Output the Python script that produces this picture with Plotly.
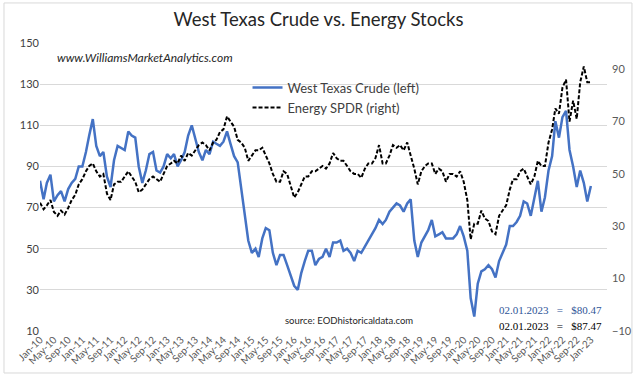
import pandas as pd
import plotly.graph_objects as go

# Monthly dates Jan-2010 .. Jan-2023
dates = pd.date_range("2010-01-01", "2023-01-01", freq="MS")

# West Texas Crude (left axis), $
wti = [
    83, 74, 82, 86, 73, 76, 78, 73, 79, 82, 84, 90,          # 2010
    90, 97, 105, 113, 100, 95, 97, 85, 80, 93, 100, 99,      # 2011
    98, 107, 105, 104, 90, 82, 88, 96, 97, 88, 87, 90,       # 2012
    96, 94, 96, 90, 93, 97, 105, 110, 104, 97, 93, 98,       # 2013
    96, 102, 101, 100, 102, 107, 101, 95, 92, 80, 67, 54,    # 2014
    48, 50, 46, 55, 60, 59, 48, 42, 47, 47, 42, 37,          # 2015
    32, 30, 38, 44, 49, 49, 42, 45, 46, 50, 46, 53,          # 2016
    53, 54, 49, 50, 48, 44, 49, 48, 51, 54, 57, 60,          # 2017
    64, 62, 64, 68, 70, 72, 71, 68, 72, 74, 54, 46,          # 2018
    53, 56, 59, 64, 56, 57, 58, 55, 55, 55, 57, 61,          # 2019
    56, 49, 26, 17, 33, 39, 40, 42, 40, 36, 44, 48,          # 2020
    52, 61, 61, 63, 66, 73, 72, 66, 74, 83, 68, 75,          # 2021
    88, 95, 112, 104, 114, 117, 98, 90, 80, 88, 82, 73,      # 2022
    80.47,                                                   # 2023
]

# Energy SPDR (right axis)
xle = [
    39, 36.5, 38, 40, 35.5, 34, 36, 34.5, 37, 40, 42, 46,    # 2010
    48, 51, 53, 54, 51, 49, 50, 42.5, 40, 46, 47, 47,        # 2011
    49, 51, 49, 47, 43, 44, 46, 48, 49, 48, 47, 50,          # 2012
    53, 54, 55, 54, 57, 55, 58, 57, 59, 61, 62, 61,          # 2013
    59, 62, 63, 66, 67, 72, 70, 68, 63, 62, 60, 55,          # 2014
    57, 59, 59, 60, 57, 54, 50, 47, 47, 51, 50, 46,          # 2015
    41, 43, 46, 49, 49, 51, 51, 52, 53, 52, 54, 58,          # 2016
    56, 55, 55, 53, 51, 50, 50, 48.5, 52, 54, 54, 56,        # 2017
    61, 54, 54, 57, 61, 60, 61, 59, 62, 57, 52, 46,          # 2018
    51, 53, 54, 54, 50, 52, 51, 47, 50, 50, 49, 51,          # 2019
    47, 40, 25, 31, 31, 36, 33, 32, 28, 27, 34, 36,          # 2020
    38, 44, 48, 48, 51, 52, 49, 46, 49, 55, 53, 53,          # 2021
    62, 67, 75, 73, 83, 86, 70, 78, 71, 85, 91, 85,          # 2022
    85,                                                      # 2023
]

tick_dates = pd.date_range("2010-01-01", "2023-01-01", freq="4MS")
tick_labels = [d.strftime("%b-%y") for d in tick_dates]

left_ticks = [10, 30, 50, 70, 90, 110, 130, 150]
right_ticks = [-10, 10, 30, 50, 70, 90]

fig = go.Figure()
fig.add_trace(go.Scatter(
    x=dates, y=wti, name="West Texas Crude (left)", mode="lines",
    line=dict(color="#4472C4", width=2.5), yaxis="y"))
fig.add_trace(go.Scatter(
    x=dates, y=xle, name="Energy SPDR (right)", mode="lines",
    line=dict(color="#000000", width=2, dash="4px,2px"), yaxis="y2"))

font_main = "Lato, 'Open Sans', sans-serif"

fig.update_layout(
    width=637, height=378,
    margin=dict(l=40, r=30, t=43, b=47, autoexpand=False),
    paper_bgcolor="white", plot_bgcolor="white",
    font=dict(family=font_main, color="#404040"),
    title=dict(text="West Texas Crude vs. Energy Stocks", x=0.5, xanchor="center",
               y=0.948, yanchor="middle", yref="container",
               font=dict(size=18.5, color="#262626", family=font_main)),
    xaxis=dict(type="date", range=["2010-01-01", "2023-05-20"],
               tickvals=tick_dates, ticktext=tick_labels, tickangle=-45,
               tickfont=dict(size=10, color="#595959"), automargin=False,
               showgrid=False, showline=False, zeroline=False, ticks=""),
    yaxis=dict(range=[10, 150], tickvals=left_ticks, automargin=False,
               tickfont=dict(size=11, color="#404040"),
               showgrid=True, gridcolor="#D9D9D9", gridwidth=1,
               zeroline=False, showline=False, ticks=""),
    yaxis2=dict(range=[-10, 100], tickvals=right_ticks, overlaying="y", side="right",
                tickfont=dict(size=11, color="#595959"), automargin=False,
                ticklabelstandoff=4,
                showgrid=False, zeroline=False, showline=False, ticks=""),
    legend=dict(x=0.366, y=0.897, xanchor="left", yanchor="top",
                bgcolor="rgba(0,0,0,0)", font=dict(size=13, color="#404040"),
                itemwidth=30, tracegroupgap=0),
    showlegend=True,
)

fig.add_annotation(text="<i>www.WilliamsMarketAnalytics.com</i>", xref="paper", yref="paper",
                   x=0.026, y=0.951, xanchor="left", yanchor="middle", showarrow=False,
                   font=dict(size=12, color="#262626", family=font_main))
fig.add_annotation(text="source: EODhistoricaldata.com", xref="paper", yref="paper",
                   x=0.429, y=0.038, xanchor="left", yanchor="middle", showarrow=False,
                   font=dict(size=9.5, color="#262626", family=font_main))
fig.add_annotation(text="02.01.2023 &nbsp; = &nbsp; $80.47", xref="paper", yref="paper",
                   x=0.806, y=0.073, xanchor="left", yanchor="middle", showarrow=False,
                   font=dict(size=11, color="#2F5597", family="'Liberation Serif', serif"))
fig.add_annotation(text="02.01.2023 &nbsp; = &nbsp; $87.47", xref="paper", yref="paper",
                   x=0.806, y=0.017, xanchor="left", yanchor="middle", showarrow=False,
                   font=dict(size=11, color="#000000", family="'Liberation Serif', serif"))

fig.add_shape(type="rect", xref="paper", yref="paper",
              x0=-0.0635, x1=1.044, y0=-0.1458, y1=1.139,
              line=dict(color="#D9D9D9", width=1), fillcolor="rgba(0,0,0,0)", layer="below")

fig.write_html("out.html", config={"displayModeBar": False},
               post_script="document.body.style.margin='0';document.body.style.padding='0';")
